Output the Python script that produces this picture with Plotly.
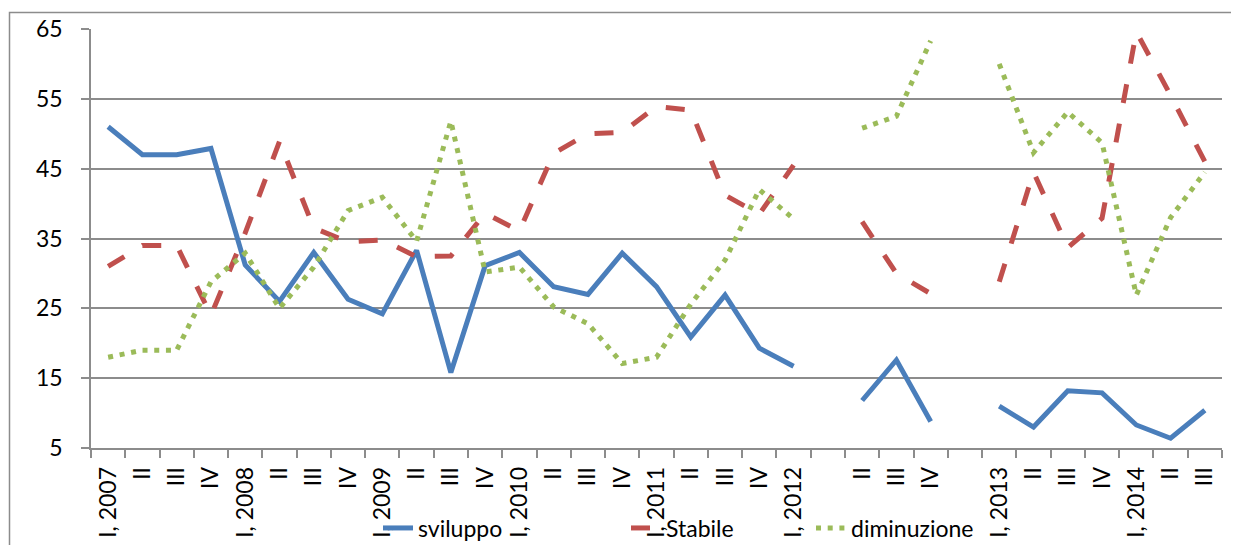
import plotly.graph_objects as go

# Quarter labels (blank entries are the empty slots in the original axis)
QUARTERS = [
    "I, 2007", "II", "III", "IV",
    "I, 2008", "II", "III", "IV",
    "I, 2009", "II", "III", "IV",
    "I, 2010", "II", "III", "IV",
    "I, 2011", "II", "III", "IV",
    "I, 2012", "", "II", "III", "IV", "",
    "I, 2013", "II", "III", "IV",
    "I, 2014", "II", "III",
]

SVILUPPO = [
    51.0, 47.0, 47.0, 47.9, 31.2, 26.0, 33.0, 26.3, 24.2, 33.3, 15.8, 31.1,
    33.0, 28.1, 27.0, 32.9, 28.1, 20.9, 26.9, 19.3, 16.7, None, 11.8, 17.6,
    8.8, None, 11.0, 8.0, 13.2, 12.9, 8.3, 6.4, 10.4,
]
STABILE = [
    31.0, 34.0, 34.0, 24.0, 35.8, 48.9, 36.5, 34.5, 34.8, 32.4, 32.5, 38.6,
    36.1, 47.2, 50.0, 50.2, 53.9, 53.4, 41.2, 38.5, 45.5, None, 37.4, 30.0,
    27.1, None, 28.8, 44.5, 33.7, 37.9, 64.6, 55.5, 46.0,
]
DIMINUZIONE = [
    18.0, 19.0, 19.0, 28.8, 32.9, 25.0, 30.9, 39.0, 40.9, 34.6, 51.8, 30.2,
    30.9, 25.2, 22.8, 17.1, 18.0, 25.6, 31.9, 42.0, 37.8, None, 50.8, 52.5,
    63.3, None, 60.0, 47.3, 53.1, 48.7, 26.9, 38.0, 44.5,
]

BLUE = "#4A7EBB"
RED = "#C0504D"
GREEN = "#9BBB59"
GRID = "#8C8C8C"
FONT = "Lato, 'Open Sans', sans-serif"
FONT_SIZE = 23

# the page body has an 8px margin, so the figure is drawn 8px in from the
# window's top-left corner; size it to end at the window edge
BODY = 8
WIN_W, WIN_H = 1239, 545
W, H = WIN_W - BODY, WIN_H - BODY
PLOT_L, PLOT_R, PLOT_T, PLOT_B = 91, 1222, 29, 448  # window pixels
M_L, M_R = PLOT_L - BODY, WIN_W - PLOT_R
M_T, M_B = PLOT_T - BODY, WIN_H - PLOT_B

x = list(range(len(QUARTERS)))


def px_to_paper_x(px):
    return (px - PLOT_L) / (PLOT_R - PLOT_L)


def px_to_paper_y(py):
    return (PLOT_B - py) / (PLOT_B - PLOT_T)


fig = go.Figure()
fig.add_trace(go.Scatter(
    x=x, y=SVILUPPO, mode="lines", name="sviluppo",
    line=dict(color=BLUE, width=5), legend="legend",
))
fig.add_trace(go.Scatter(
    x=x, y=STABILE, mode="lines", name="Stabile",
    line=dict(color=RED, width=5, dash="19px,21px"), legend="legend2",
))
fig.add_trace(go.Scatter(
    x=x, y=DIMINUZIONE, mode="lines", name="diminuzione",
    line=dict(color=GREEN, width=5, dash="5px,6.7px"), legend="legend3",
))

# outer chart frame (extends past the right/bottom edge of the image)
fig.add_shape(
    type="rect", xref="paper", yref="paper",
    x0=px_to_paper_x(9.5), x1=px_to_paper_x(1300),
    y0=px_to_paper_y(600), y1=px_to_paper_y(12.5),
    line=dict(color=GRID, width=1.5), layer="below",
)

# one legend per entry, so each label sits where the original has it
legend_common = dict(
    orientation="h", xanchor="left", yanchor="middle",
    y=px_to_paper_y(528), bgcolor="rgba(0,0,0,0)",
    font=dict(size=FONT_SIZE),
)

fig.update_layout(
    width=W, height=H,
    margin=dict(l=M_L, r=M_R, t=M_T, b=M_B, autoexpand=False),
    paper_bgcolor="white", plot_bgcolor="white",
    font=dict(family=FONT, size=FONT_SIZE, color="black"),
    showlegend=True,
    legend=dict(x=px_to_paper_x(378), **legend_common),
    legend2=dict(x=px_to_paper_x(626), **legend_common),
    legend3=dict(x=px_to_paper_x(811), **legend_common),
    xaxis=dict(
        range=[-0.5, len(QUARTERS) - 0.5],
        tickmode="array", tickvals=x, ticktext=QUARTERS,
        tickangle=-90, ticks="outside", ticklen=8, tickcolor="rgba(0,0,0,0)",
        showgrid=False, zeroline=False, automargin=False,
        showline=True, linecolor=GRID, linewidth=1.5,
        minor=dict(tickmode="linear", tick0=-0.5, dtick=1, ticks="outside",
                   ticklen=8, tickcolor=GRID, tickwidth=1.5, showgrid=False),
        tickfont=dict(size=FONT_SIZE),
    ),
    yaxis=dict(
        range=[5, 65], tickmode="linear", tick0=5, dtick=10,
        ticks="outside", ticklen=8, tickcolor=GRID, tickwidth=1.5,
        showgrid=True, gridcolor=GRID, gridwidth=1.5, automargin=False,
        zeroline=False, showline=True, linecolor=GRID, linewidth=1.5,
        ticklabelstandoff=14, tickfont=dict(size=FONT_SIZE),
    ),
)

fig.write_html("out.html")
